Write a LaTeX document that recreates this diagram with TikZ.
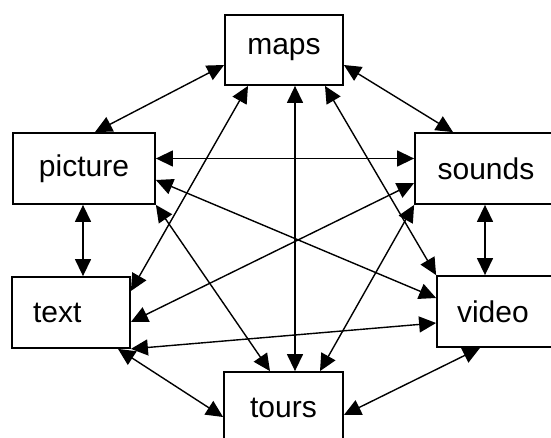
\documentclass[tikz,border=0pt]{standalone}
\usepackage{fontspec}
\setmainfont{Liberation Sans}
\usetikzlibrary{arrows.meta,calc}

\begin{document}
\begin{tikzpicture}[x=0.5pt, y=-0.5pt,
    >={Triangle[length=8.5pt,width=8pt]},
    box/.style={draw, line width=0.9pt, inner sep=0pt, minimum height=35.5pt, font=\fontsize{15}{18}\selectfont},
    link/.style={<->, line width=0.7pt}]
    \useasboundingbox (0,0) rectangle (551,438);
    \clip (0,0) rectangle (551,438);
    % boxes
    \node[box, minimum width=59pt, minimum height=35pt] (maps) at (284, 50) {maps};
    \node[box, minimum width=71pt] (picture) at (84, 168.5) {picture};
    \node[box, minimum width=71pt] (sounds) at (486, 168.5) {sounds};
    \node[box, minimum width=59pt, text width=38pt, inner xsep=10.5pt, align=left] (text) at (71, 312.5) {text};
    \node[box, minimum width=61.5pt, text width=41.5pt, inner xsep=10pt, align=left] (video) at (498.5, 311.5) {video};
    \node[box, minimum width=59.5pt] (tours) at (283.5, 407.5) {tours};
    % outer ring
    \draw[link] ($(maps.west)+(0,15)$) -- ($(picture.north)+(11,0)$);
    \draw[link] ($(maps.east)+(0,15)$) -- ($(sounds.north)+(-33,0)$);
    \draw[link] ($(picture.south)+(-1,0)$) -- ($(text.north)+(12,0)$);
    \draw[link] ($(sounds.south)+(-1,0)$) -- ($(video.north)+(-13.5,0)$);
    \draw[link] ($(text.south)+(47,0)$) -- ($(tours.west)+(0,9.5)$);
    \draw[link] ($(video.south)+(-18.5,0)$) -- ($(tours.east)+(0,7.5)$);
    % cross links
    \draw[link] ($(picture.east)+(0,-10)$) -- ($(sounds.west)+(0,-10)$);
    \draw[link] ($(maps.south)+(-36,0)$) -- ($(text.east)+(0,-21.5)$);
    \draw[link] ($(maps.south)+(11,0)$) -- ($(tours.north)+(11.5,0)$);
    \draw[link] ($(maps.south)+(41,0)$) -- (video.north west);
    \draw[link] ($(picture.east)+(0,11.5)$) -- ($(video.west)+(0,-13.5)$);
    \draw[link] (picture.south east) -- ($(tours.north)+(-13.5,0)$);
    \draw[link] ($(sounds.west)+(0,14.5)$) -- ($(text.east)+(0,9.5)$);
    \draw[link] (sounds.south west) -- ($(tours.north)+(36.5,0)$);
    \draw[link] (text.south east) -- ($(video.west)+(0,11.5)$);
\end{tikzpicture}
\end{document}
